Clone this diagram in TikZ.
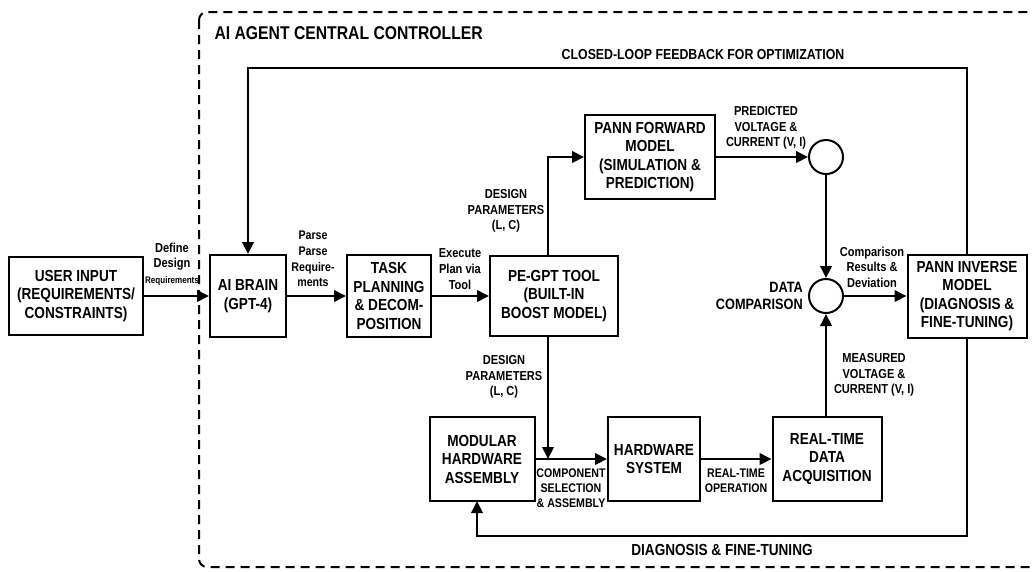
\documentclass[tikz,border=0pt]{standalone}
\usepackage{fontspec}
\setmainfont{Liberation Sans}[FakeStretch=0.85]
\usetikzlibrary{arrows.meta, positioning}

\newcommand\boxfont{\fontsize{16}{18.5}\selectfont\bfseries}
\newcommand\lblfont{\fontsize{13}{15.6}\selectfont\bfseries}

\begin{document}
\begin{tikzpicture}[x=1pt, y=-1pt,
  blk/.style={draw, line width=2pt, align=center, inner sep=0pt, font=\boxfont},
  lbl/.style={align=center, inner sep=0pt, font=\lblfont},
  arr/.style={line width=2pt, -{Triangle[length=12pt,width=11.5pt]}},
  sumpt/.style={draw, circle, line width=2pt, minimum size=34pt, inner sep=0pt}]
\useasboundingbox (0,0) rectangle (1032,571);
% controller frame
\draw[line width=2pt, dash pattern=on 9pt off 6pt, rounded corners=8pt] (199,12) rectangle (1050,567);
\node[anchor=west, font=\fontsize{18.5}{20}\selectfont\bfseries] (title) at (211,33) {AI AGENT CENTRAL CONTROLLER};

% blocks
\node[blk, minimum width=134pt, minimum height=78pt] (user) at (76,296) {USER INPUT\\(REQUIREMENTS/\\CONSTRAINTS)};
\node[blk, minimum width=76pt, minimum height=82pt] (brain) at (248,296) {AI BRAIN\\(GPT-4)};
\node[blk, minimum width=84pt, minimum height=82pt] (task) at (389,296) {TASK\\PLANNING\\\& DECOM-\\POSITION};
\node[blk, minimum width=128pt, minimum height=80pt] (pegpt) at (554,296) {PE-GPT TOOL\\(BUILT-IN\\BOOST MODEL)};
\node[blk, minimum width=130pt, minimum height=84pt] (fwd) at (650,157) {PANN FORWARD\\MODEL\\(SIMULATION \&\\PREDICTION)};
\node[blk, minimum width=119pt, minimum height=83pt] (inv) at (967,296) {PANN INVERSE\\MODEL\\(DIAGNOSIS \&\\FINE-TUNING)};
\node[blk, minimum width=105pt, minimum height=84pt] (mod) at (482,459) {MODULAR\\HARDWARE\\ASSEMBLY};
\node[blk, minimum width=92pt, minimum height=84pt] (hw) at (654,459) {HARDWARE\\SYSTEM};
\node[blk, minimum width=109pt, minimum height=84pt] (daq) at (827,459) {REAL-TIME\\DATA\\ACQUISITION};
\node[sumpt] (pred) at (826,157) {};
\node[sumpt] (cmp) at (826,296) {};

% helper points
\coordinate (tapU) at (548,255);
\coordinate (tapD) at (548,459);
\coordinate (fb) at (600,68);
\coordinate (dg) at (700,536);
\coordinate (modin) at (477,501);

% connectors
\draw[arr] (user) -- (brain);
\draw[arr] (brain) -- (task);
\draw[arr] (task) -- (pegpt);
\draw[arr] (tapU) |- (fwd.west);
\draw[arr] (pegpt.south -| tapD) -- (tapD);
\draw[arr] (fwd.east) -- (pred.west);
\draw[arr] (pred.south) -- (cmp.north);
\draw[arr] (cmp.east) -- (cmp.east -| inv.west);
\draw[arr] (cmp.south |- daq.north) -- (cmp.south);
\draw[arr] (mod) -- (hw);
\draw[arr] (hw) -- (daq);
\draw[arr] (inv.north) |- (fb) -| (brain.north);
\draw[arr] (inv.south) |- (dg) -| (modin);

% labels
\node[lbl, font=\fontsize{13}{15.5}\selectfont\bfseries] (l-def) at (172,264) {Define\\Design\\{\fontsize{9.5}{10}\selectfont Requirements}};
\node[lbl, font=\fontsize{12.5}{15.6}\selectfont\bfseries] (l-parse) at (313,259) {Parse\\Parse\\Require-\\ments};
\node[lbl] (l-exec) at (460,269) {Execute\\Plan via\\Tool};
\node[lbl] (l-dp1) at (506,211) {DESIGN\\PARAMETERS\\(L, C)};
\node[lbl] (l-dp2) at (504,377) {DESIGN\\PARAMETERS\\(L, C)};
\node[lbl] (l-pred) at (766,128) {PREDICTED\\VOLTAGE \&\\CURRENT (V, I)};
\node[lbl, align=right, anchor=east, font=\fontsize{15}{17}\selectfont\bfseries] (l-cmp) at (803,296) {DATA\\COMPARISON};
\node[lbl] (l-res) at (872,267) {Comparison\\Results \&\\Deviation};
\node[lbl] (l-meas) at (874,375) {MEASURED\\VOLTAGE \&\\CURRENT (V, I)};
\node[lbl, font=\fontsize{12.5}{15.3}\selectfont\bfseries] (l-comp) at (571,488) {COMPONENT\\SELECTION\\\& ASSEMBLY};
\node[lbl, font=\fontsize{12.5}{15.3}\selectfont\bfseries] (l-op) at (736,481) {REAL-TIME\\OPERATION};
\node[lbl, font=\fontsize{14.5}{16}\selectfont\bfseries] (l-fb) at (703,55) {CLOSED-LOOP FEEDBACK FOR OPTIMIZATION};
\node[lbl, font=\fontsize{16}{18}\selectfont\bfseries] (l-diag) at (722,550) {DIAGNOSIS \& FINE-TUNING};
\end{tikzpicture}
\end{document}
